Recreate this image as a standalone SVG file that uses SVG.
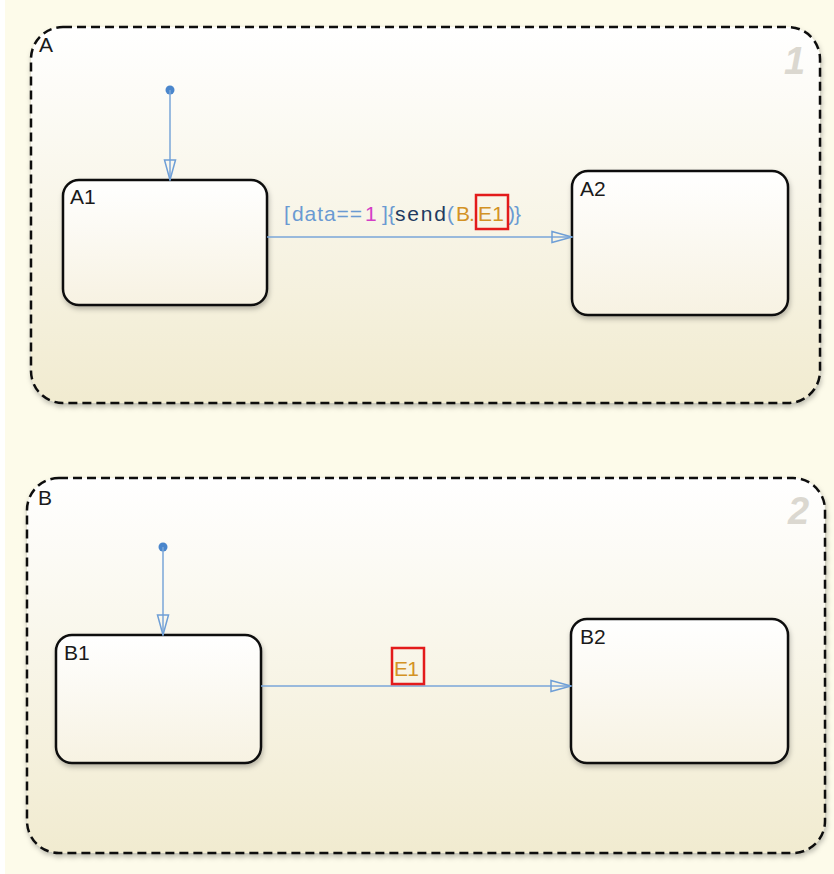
<svg xmlns="http://www.w3.org/2000/svg" width="834" height="874" viewBox="0 0 834 874">
<defs>
<linearGradient id="gOuter" x1="0" y1="0" x2="0" y2="1">
<stop offset="0" stop-color="#ffffff"/>
<stop offset="1" stop-color="#f1ebd0"/>
</linearGradient>
<linearGradient id="gInner" x1="0" y1="0" x2="0" y2="1">
<stop offset="0" stop-color="#ffffff"/>
<stop offset="1" stop-color="#f7f2e2"/>
</linearGradient>
<filter id="sh" x="-5%" y="-5%" width="110%" height="115%">
<feDropShadow dx="1" dy="3" stdDeviation="2.5" flood-color="#000" flood-opacity="0.25"/>
</filter>
<marker id="arr" markerWidth="22" markerHeight="14" refX="21" refY="7" orient="auto" markerUnits="userSpaceOnUse">
<path d="M1,1.5 L21,7 L1,12.5 Z" fill="none" stroke="#6f9fd6" stroke-width="1.5"/>
</marker>
</defs>
<style>
.outer{fill:url(#gOuter);stroke:#111;stroke-width:2.5;stroke-dasharray:9 5;filter:url(#sh)}
.inner{fill:url(#gInner);stroke:#111;stroke-width:2.5;filter:url(#sh)}
.ttl{font-family:"Liberation Sans",Arial,sans-serif;font-size:21px;fill:#1a1a1a}
.num{font-family:"Liberation Sans",Arial,sans-serif;font-size:38px;font-weight:bold;font-style:italic;fill:#dbd8d0}
.conn{stroke:#7aa6d8;stroke-width:1.5;fill:none}
.dot{fill:#4a86cc}
.lbl{font-family:"Liberation Sans",Arial,sans-serif;font-size:21px}
.lb{fill:#6a9ad2}
.mg{fill:#d43ec6}
.nv{fill:#223a60}
.or{fill:#d39224}
.box{fill:none;stroke:#e31b1b;stroke-width:2.5}
</style>
<rect x="0" y="0" width="834" height="874" fill="#fdfbea"/>
<rect x="0" y="0" width="5" height="874" fill="#ffffff"/>

<g id="A">
<rect class="outer" x="31" y="27" width="789" height="376" rx="32" ry="32"/>
<text class="ttl" x="39" y="52">A</text>
<text class="num" x="784" y="74">1</text>
</g>
<g id="A1">
<rect class="inner" x="63" y="180" width="204" height="125" rx="16" ry="16"/>
<text class="ttl" x="70" y="204">A1</text>
</g>
<g id="A2">
<rect class="inner" x="572" y="171" width="216" height="144" rx="16" ry="16"/>
<text class="ttl" x="580" y="196">A2</text>
</g>

<g id="B">
<rect class="outer" x="27" y="478" width="798" height="375" rx="32" ry="32"/>
<text class="ttl" x="38" y="505">B</text>
<text class="num" x="788" y="524">2</text>
</g>
<g id="B1">
<rect class="inner" x="56" y="635" width="205" height="128" rx="16" ry="16"/>
<text class="ttl" x="64" y="660">B1</text>
</g>
<g id="B2">
<rect class="inner" x="571" y="619" width="217" height="144" rx="16" ry="16"/>
<text class="ttl" x="580" y="644">B2</text>
</g>

<g id="connectors">
<circle class="dot" cx="170" cy="90" r="4.5"/>
<line class="conn" x1="170" y1="90" x2="170" y2="180" marker-end="url(#arr)"/>
<line class="conn" x1="267" y1="237" x2="572" y2="237" marker-end="url(#arr)"/>
<circle class="dot" cx="163" cy="547" r="4.5"/>
<line class="conn" x1="163" y1="547" x2="163" y2="635" marker-end="url(#arr)"/>
<line class="conn" x1="261" y1="686" x2="571" y2="686" marker-end="url(#arr)"/>

<text class="lbl" y="221"><tspan class="lb" x="284">[</tspan><tspan class="lb" x="292" textLength="70" lengthAdjust="spacing">data==</tspan><tspan class="mg" x="365">1</tspan><tspan class="lb" x="382">]</tspan><tspan class="lb" x="388">{</tspan><tspan class="nv" x="395" textLength="51" lengthAdjust="spacing">send</tspan><tspan class="lb" x="447">(</tspan><tspan class="or" x="456">B</tspan><tspan class="or" x="469">.</tspan><tspan class="or" x="478" textLength="26" lengthAdjust="spacing">E1</tspan><tspan class="lb" x="508">)</tspan><tspan class="lb" x="514">}</tspan></text>
<rect class="box" x="476" y="195" width="32" height="34"/>

<text class="lbl or" x="394" y="676" textLength="25" lengthAdjust="spacing">E1</text>
<rect class="box" x="392" y="648" width="32" height="36"/>
</g>
</svg>
